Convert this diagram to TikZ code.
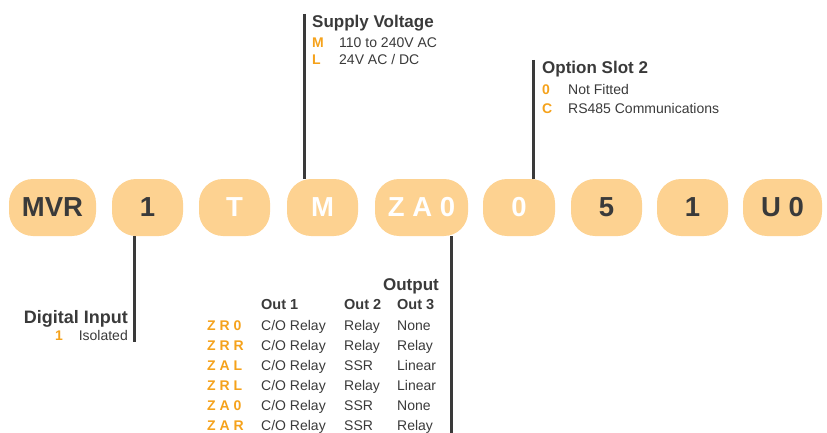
\documentclass[tikz,border=0pt]{standalone}
\usepackage{fontspec}
\setmainfont{Liberation Sans}
\usetikzlibrary{backgrounds}
\definecolor{pillfill}{HTML}{FDD291}
\definecolor{codeorange}{HTML}{F5A21B}
\definecolor{darktext}{HTML}{3A3A3A}
\tikzstyle{pill}=[rounded corners=24pt, fill=pillfill, minimum height=57pt, inner sep=0pt, text=darktext, font=\fontsize{27.5}{27.5}\bfseries\selectfont]
\tikzstyle{lead}=[draw=darktext, line width=3pt]
\tikzstyle{txt}=[anchor=base west, inner sep=0pt, text=darktext, font=\fontsize{14}{14}\selectfont]
\tikzstyle{head}=[txt, font=\fontsize{17}{17}\bfseries\selectfont]
\tikzstyle{colhead}=[txt, font=\fontsize{14.5}{14.5}\bfseries\selectfont]
\tikzstyle{code}=[txt, text=codeorange, font=\fontsize{14}{14}\bfseries\selectfont]
\begin{document}
\begin{tikzpicture}[x=1pt, y=-1pt]
\useasboundingbox (0,0) rectangle (827,433);

\node[pill, minimum width=87pt] (pMVR) at (52.5, 207.5) {MVR};
\node[pill, minimum width=71pt] (pIn) at (147.5, 207.5) {1};
\node[pill, minimum width=71pt, text=white] (pT) at (234.5, 207.5) {T};
\node[pill, minimum width=71pt, text=white] (pSup) at (322.5, 207.5) {M};
\node[pill, minimum width=93pt, text=white] (pOut) at (421.5, 207.5) {Z A 0};
\node[pill, minimum width=72pt, text=white] (pOpt) at (519, 207.5) {0};
\node[pill, minimum width=71pt] (p5) at (606.5, 207.5) {5};
\node[pill, minimum width=71pt] (p1) at (692.5, 207.5) {1};
\node[pill, minimum width=79pt] (pU) at (782.5, 207.5) {U 0};

% supply voltage
\coordinate (supTop) at (304, 14);
\node[head] (supT) at (312, 28) {Supply Voltage};
\node[code] (supM) at (312, 48) {M};
\node[txt] (supMt) at (339, 48) {110 to 240V AC};
\node[code] (supL) at (312, 65) {L};
\node[txt] (supLt) at (339, 65) {24V AC / DC};

% option slot 2
\coordinate (optTop) at (533, 60);
\node[head] (optT) at (542, 74) {Option Slot 2};
\node[code] (opt0) at (542, 95) {0};
\node[txt] (opt0t) at (568, 95) {Not Fitted};
\node[code] (optC) at (542, 114) {C};
\node[txt] (optCt) at (568, 114) {RS485 Communications};

% digital input
\coordinate (inBot) at (134, 342);
\node[head, anchor=base east, font=\fontsize{18}{18}\bfseries\selectfont] (inT) at (128, 323) {Digital Input};
\node[txt, anchor=base east] (inIso) at (128, 340) {Isolated};
\node[code, anchor=base east] (in1) at (63, 340) {1};

% output
\coordinate (outBot) at (451, 433);
\node[head, anchor=base east] (outT) at (439, 290) {Output};
\node[colhead] (h1) at (261, 309) {Out 1};
\node[colhead] (h2) at (344, 309) {Out 2};
\node[colhead] (h3) at (397, 309) {Out 3};
\foreach \c/\a/\b/\d [count=\i] in {Z R 0/C\slash O Relay/Relay/None,
  Z R R/C\slash O Relay/Relay/Relay, Z A L/C\slash O Relay/SSR/Linear,
  Z R L/C\slash O Relay/Relay/Linear, Z A 0/C\slash O Relay/SSR/None,
  Z A R/C\slash O Relay/SSR/Relay} {
  \node[code] (r\i c) at (207, 310+20*\i) {\c};
  \node[txt] (r\i a) at (261, 310+20*\i) {\a};
  \node[txt] (r\i b) at (344, 310+20*\i) {\b};
  \node[txt] (r\i d) at (397, 310+20*\i) {\d};
}

\begin{pgfonlayer}{background}
\draw[lead] (supTop) -- (supTop |- pSup.north);
\draw[lead] (optTop) -- (optTop |- pOpt.north);
\draw[lead] (inBot |- pIn.south) -- (inBot);
\draw[lead] (outBot |- pOut.south) -- (outBot);
\end{pgfonlayer}

\end{tikzpicture}
\end{document}
